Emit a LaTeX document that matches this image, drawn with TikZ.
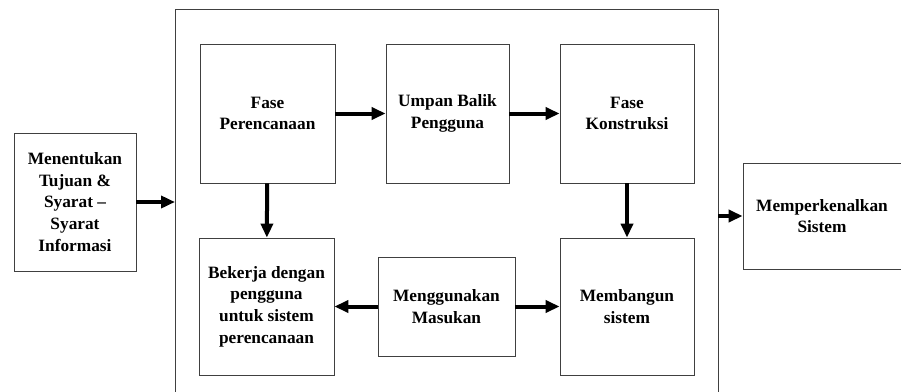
\documentclass[tikz,border=0pt]{standalone}
\usepackage{fontspec}
\setmainfont{Liberation Serif}
\usetikzlibrary{arrows.meta}

\tikzset{
  blok/.style={draw=black!75,line width=.8pt,align=center,inner sep=0pt,
    font=\bfseries\fontsize{17.3}{21.7}\selectfont},
  panah/.style={line width=4pt,-{Triangle[length=14pt,width=12pt]}}
}

\begin{document}
\begin{tikzpicture}[x=1pt,y=-1pt]

        \useasboundingbox (0,0) rectangle (901,391);

        % bingkai luar
        \draw[draw=black!75,line width=.8pt] (175,395) -- (175,9) -- (718,9) -- (718,395);
        \coordinate (masuk)  at (175,202);
        \coordinate (keluar) at (718,216);

        \begin{scope}[every node/.style={blok}]
          \node[minimum width=122pt,minimum height=138pt] (tujuan) at (75,202)
            {Menentukan\\Tujuan \&\\Syarat --\\Syarat\\Informasi};
          \node[minimum width=135pt,minimum height=139pt] (rencana) at (267.5,113.5)
            {Fase\\Perencanaan};
          \node[minimum width=123pt,minimum height=139pt] (umpan) at (447.5,113.5)
            {Umpan Balik\\Pengguna};
          \node[minimum width=134pt,minimum height=139pt] (konstruksi) at (627,113.5)
            {Fase\\Konstruksi};
          \node[minimum width=135pt,minimum height=137pt] (bekerja) at (266.5,306.5)
            {Bekerja dengan\\pengguna\\untuk sistem\\perencanaan};
          \node[minimum width=137pt,minimum height=99pt] (masukan) at (446.5,306.5)
            {Menggunakan\\Masukan};
          \node[minimum width=134pt,minimum height=137pt] (bangun) at (627,306.5)
            {Membangun\\sistem};
          % kotak terpotong di tepi kanan
          \node[minimum width=164pt,minimum height=106pt] (kenal) at (825,216)
            {};
          \node[draw=none] (kenalteks) at (822,216) {Memperkenalkan\\Sistem};
        \end{scope}

        \begin{scope}[every path/.style={panah}]
          \path (tujuan)     edge (masuk);
          \path (rencana)    edge (umpan);
          \path (umpan)      edge (konstruksi);
          \path (rencana)    edge (bekerja);
          \path (konstruksi) edge (bangun);
          \path (masukan)    edge (bekerja);
          \path (masukan)    edge (bangun);
          \path (keluar)     edge (kenal);
        \end{scope}

      \end{tikzpicture}
\end{document}
